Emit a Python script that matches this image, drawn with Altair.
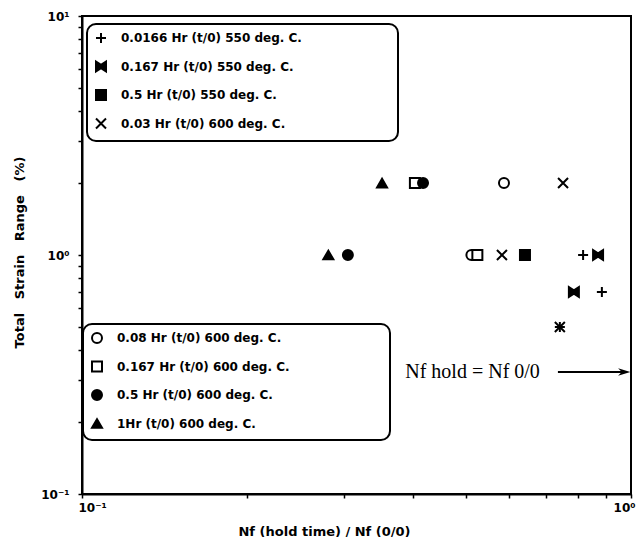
import altair as alt
import pandas as pd

# ---- data ----
g1_names = ["0.0166 Hr (t/0) 550 deg. C.", "0.167 Hr (t/0) 550 deg. C.",
            "0.5 Hr (t/0) 550 deg. C.", "0.03 Hr (t/0) 600 deg. C."]
g2_names = ["0.08 Hr (t/0) 600 deg. C.", "0.167 Hr (t/0) 600 deg. C.",
            "0.5 Hr (t/0) 600 deg. C.", "1Hr (t/0) 600 deg. C."]

s1_x = [0.818, 0.885, 0.742]; s1_y = [1.0, 0.7, 0.5]
s2_x = [0.871, 0.787];        s2_y = [1.0, 0.7]
s3_x = [0.641];               s3_y = [1.0]
s4_x = [0.752, 0.582, 0.742]; s4_y = [2.0, 1.0, 0.5]
s5_x = [0.587, 0.512];        s5_y = [2.0, 1.0]
s6_x = [0.404, 0.525];        s6_y = [2.0, 1.0]
s7_x = [0.418, 0.305];        s7_y = [2.0, 1.0]
s8_x = [0.352, 0.281];        s8_y = [2.0, 1.0]

x_ticks = [0.1, 0.2, 0.3, 0.4, 0.5, 0.6, 0.7, 0.8, 0.9, 1.0]
y_ticks = [0.1, 0.2, 0.3, 0.4, 0.5, 0.6, 0.7, 0.8, 0.9, 1, 2, 3, 4, 5, 6, 7, 8, 9, 10]

note_text = ["Nf hold = Nf 0/0"]
note_x = [0.388]; note_y = [0.324]
arrow_x = [0.736]; arrow_x2 = [0.975]; arrow_y = [0.324]
arrow_head_x = [0.972]

# ---- build tables ----
def frame(names, xs, ys):
    rows = []
    for n, xv, yv in zip(names, xs, ys):
        for a, b in zip(xv, yv):
            rows.append({"series": n, "x": a, "y": b})
    return pd.DataFrame(rows)

df1 = frame(g1_names, [s1_x, s2_x, s3_x, s4_x], [s1_y, s2_y, s3_y, s4_y])
df2 = frame(g2_names, [s5_x, s6_x, s7_x, s8_x], [s5_y, s6_y, s7_y, s8_y])

PLUS = "M-1,0L1,0M0,-1L0,1"
BOWTIE = "M-1,-1L0,-0.35L1,-1L1,1L0,0.35L-1,1Z"
XMARK = "M-1,-1L1,1M1,-1L-1,1"
g1_shapes = [PLUS, BOWTIE, "square", XMARK]
g1_fills = ["black", "black", "black", "black"]
g2_shapes = ["circle", "square", "circle", "triangle-up"]
g2_fills = ["white", "white", "black", "black"]
blacks = ["black"] * 4

FONT = "DejaVu Sans"
NB = "\u00a0"
xscale = alt.Scale(type="log", domain=[0.1, 1], nice=False)
yscale = alt.Scale(type="log", domain=[0.1, 10], nice=False)

xaxis = alt.Axis(values=x_ticks, grid=False, tickSize=4, labelPadding=4,
                 labelFlush=True, labelFlushOffset=4, labelOverlap=False,
                 labelExpr="datum.value < 0.11 ? '10\u207b\u00b9' : (datum.value > 0.99 ? '10\u2070' : '')",
                 title="Nf (hold time) / Nf (0/0)", titleX=242, titleY=37,
                 titleBaseline="middle")
yaxis = alt.Axis(values=y_ticks, grid=False, tickSize=4, labelPadding=9,
                 labelOverlap=False,
                 labelExpr="datum.value < 0.11 ? '10\u207b\u00b9' : (datum.value > 0.99 && datum.value < 1.01 ? '10\u2070' : (datum.value > 9.9 ? '10\u00b9' : ''))",
                 title=f"Total{NB*3}Strain{NB*3}Range{NB*3}(%)", titleX=-63, titleY=236,
                 titleBaseline="middle")


def legend(x, y, npad):
    pad = NB * npad + "\u200b"
    return alt.Legend(orient="none", legendX=x, legendY=y, title=None,
                      labelExpr=f"datum.label + '{pad}'", labelLimit=600,
                      strokeColor="black", cornerRadius=9, padding=8,
                      rowPadding=10.5, labelOffset=14, symbolSize=100,
                      symbolStrokeColor="black", symbolStrokeWidth=2,
                      labelFont=FONT, labelFontWeight="bold", labelFontSize=12,
                      labelColor="black")


def points(df, names, shapes, fills, lg):
    return alt.Chart(df).mark_point(size=100, strokeWidth=2, opacity=1).encode(
        x=alt.X("x:Q", scale=xscale, axis=xaxis),
        y=alt.Y("y:Q", scale=yscale, axis=yaxis),
        shape=alt.Shape("series:N", scale=alt.Scale(domain=names, range=shapes), legend=lg),
        fill=alt.Fill("series:N", scale=alt.Scale(domain=names, range=fills), legend=lg),
        stroke=alt.Stroke("series:N", scale=alt.Scale(domain=names, range=blacks), legend=lg),
    )

p1 = points(df1, g1_names, g1_shapes, g1_fills, legend(5, 8, 21))
p2 = points(df2, g2_names, g2_shapes, g2_fills, legend(1, 308, 22))

note = alt.Chart(pd.DataFrame({"x": note_x, "y": note_y, "t": note_text})).mark_text(
    align="left", baseline="middle", font="Liberation Serif", fontSize=20, color="black"
).encode(x=alt.X("x:Q", scale=xscale), y=alt.Y("y:Q", scale=yscale), text="t:N")

arrow = alt.Chart(pd.DataFrame({"x": arrow_x, "x2": arrow_x2, "y": arrow_y})).mark_rule(
    strokeWidth=2, color="black"
).encode(x=alt.X("x:Q", scale=xscale), x2="x2:Q", y=alt.Y("y:Q", scale=yscale))

head = alt.Chart(pd.DataFrame({"x": arrow_head_x, "y": arrow_y})).mark_point(
    shape="M-1,-0.6L1,0L-1,0.6L-0.4,0Z", size=150, filled=True, color="black", opacity=1
).encode(x=alt.X("x:Q", scale=xscale), y=alt.Y("y:Q", scale=yscale))

chart = alt.layer(p1, p2, note, arrow, head).resolve_scale(
    shape="independent", fill="independent", stroke="independent"
).properties(
    width=549, height=478,
    background="white",
    autosize=alt.AutoSizeParams(type="none"),
    padding={"left": 74, "top": 8, "right": 5, "bottom": 43},
).configure_view(
    stroke="black", strokeWidth=2
).configure_legend(
    strokeWidth=2
).configure_axis(
    domainColor="black", domainWidth=2, tickColor="black", tickWidth=1.5,
    labelFont=FONT, labelFontSize=12, labelFontWeight="bold", labelColor="black",
    titleFont=FONT, titleFontSize=13, titleFontWeight="bold", titleColor="black",
)

chart.save("out.html", embed_options={"renderer": "svg", "actions": False})
